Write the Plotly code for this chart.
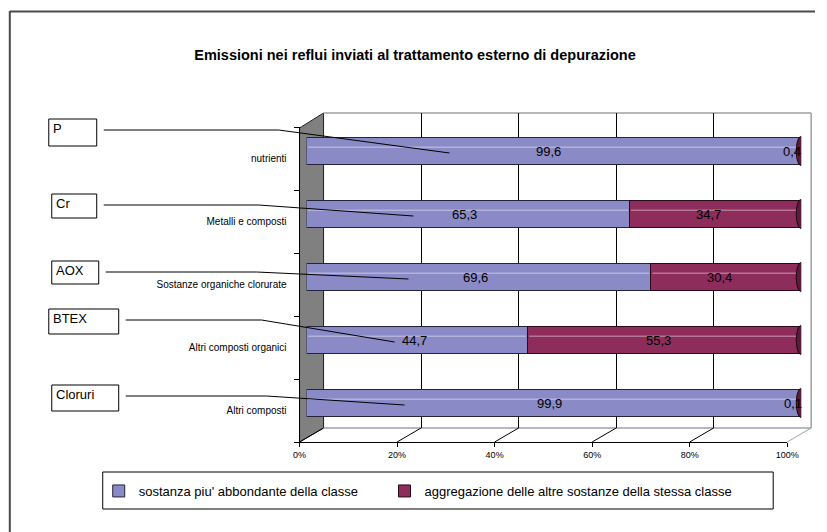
import plotly.graph_objects as go

# ---------------- data ----------------
categories = ["Altri composti", "Altri composti organici", "Sostanze organiche clorurate",
              "Metalli e composti", "nutrienti"]
main_share = [99.9, 44.7, 69.6, 65.3, 99.6]
other_share = [0.1, 55.3, 30.4, 34.7, 0.4]
substances = ["Cloruri", "BTEX", "AOX", "Cr", "P"]
series_names = ["sostanza piu' abbondante della classe",
                "aggregazione delle altre sostanze della stessa classe"]
pct_ticks = [0, 20, 40, 60, 80, 100]
pct_labels = ["0%", "20%", "40%", "60%", "80%", "100%"]
title_text = "Emissioni nei reflui inviati al trattamento esterno di depurazione"

# ---------------- layout helpers (target pixels -> paper) ----------------
W, H = 827, 532
SX, BX = 0.9778, 5.2          # horizontal correction observed in the rendered page
def px(x): return ((x - BX) / SX) / W
def py(y): return 1 - y / H

FONT = "Liberation Sans, Arial, sans-serif"
BLUE = "#8A8AC6"
MAROON = "#8E2D5C"
n = len(categories)
idx = list(range(n))

# geometry of the pseudo-3D box (target pixels)
FRONT_X0, FRONT_X1, FRONT_Y = 298, 786, 442
BACK_X0, BACK_X1, BACK_Y0, BACK_Y1 = 322, 810, 113, 428
FRONT_TOP = 127
BAR_X0, BAR_X1 = 305, 800
BAR_TOP, BAR_BOT = 119.5, 434.5

fig = go.Figure()

# empty helper traces so the wall / floor axes get drawn
fig.add_trace(go.Scatter(x=[None], y=[None], xaxis="x", yaxis="y", showlegend=False,
                         hoverinfo="skip"))
fig.add_trace(go.Scatter(x=[None], y=[None], xaxis="x2", yaxis="y2", showlegend=False,
                         hoverinfo="skip"))

fig.add_trace(go.Bar(
    y=idx, x=main_share, orientation="h", name=series_names[0], legend="legend",
    marker=dict(color=BLUE, line=dict(color="#23233c", width=1)),
    width=0.43, xaxis="x3", yaxis="y3", hoverinfo="x"))
fig.add_trace(go.Bar(
    y=idx, x=other_share, orientation="h", name=series_names[1], legend="legend2",
    marker=dict(color=MAROON, line=dict(color="#2a0a18", width=1)),
    width=0.43, xaxis="x3", yaxis="y3", hoverinfo="x"))

shapes = []
annotations = []

# outer chart frame (top and left edges visible)
shapes.append(dict(type="line", xref="paper", yref="paper", x0=px(8), x1=1,
                   y0=py(11.5), y1=py(11.5), line=dict(color="#4a4a4a", width=2)))
shapes.append(dict(type="line", xref="paper", yref="paper", x0=px(8), x1=px(8),
                   y0=py(11), y1=0, line=dict(color="#4a4a4a", width=2)))

# left (gray) wall
shapes.append(dict(type="path", xref="paper", yref="paper", layer="below",
                   path=f"M{px(FRONT_X0)},{py(FRONT_TOP+1)} L{px(BACK_X0)},{py(BACK_Y0)} "
                        f"L{px(BACK_X0)},{py(BACK_Y1)} L{px(FRONT_X0)},{py(FRONT_Y)} Z",
                   fillcolor="#808080", line=dict(color="#202020", width=1)))
# back wall top / right edges, floor back edge
gray = "#a0a0a0"
shapes.append(dict(type="line", xref="paper", yref="paper", layer="below",
                   x0=px(BACK_X0), x1=px(BACK_X1), y0=py(BACK_Y0), y1=py(BACK_Y0),
                   line=dict(color=gray, width=1.5)))
shapes.append(dict(type="line", xref="paper", yref="paper", layer="below",
                   x0=px(BACK_X1), x1=px(BACK_X1), y0=py(BACK_Y0), y1=py(BACK_Y1),
                   line=dict(color=gray, width=1.5)))
shapes.append(dict(type="line", xref="paper", yref="paper", layer="below",
                   x0=px(BACK_X0), x1=px(BACK_X1), y0=py(BACK_Y1), y1=py(BACK_Y1),
                   line=dict(color=gray, width=1.5)))
# floor diagonals from front ticks to back gridlines
for t in pct_ticks:
    fx = FRONT_X0 + (FRONT_X1 - FRONT_X0) * t / 100
    bx = BACK_X0 + (BACK_X1 - BACK_X0) * t / 100
    shapes.append(dict(type="line", xref="paper", yref="paper", layer="below",
                       x0=px(fx), x1=px(bx), y0=py(FRONT_Y), y1=py(BACK_Y1),
                       line=dict(color=gray if t == 100 else "#000000", width=1)))

# bar highlights, end caps and value labels (from the data)
for i in idx:
    base = 0
    for v in (main_share[i], other_share[i]):
        shapes.append(dict(type="line", xref="x3", yref="y3", x0=base + 0.3, x1=base + v - 0.3,
                           y0=i + 0.06, y1=i + 0.06,
                           line=dict(color="rgba(255,255,255,0.35)", width=1.5)))
        base += v
    tot = main_share[i] + other_share[i]
    shapes.append(dict(type="circle", xref="x3", yref="y3", x0=tot - 1.0, x1=tot + 0.9,
                       y0=i - 0.23, y1=i + 0.23, fillcolor="#5a1c3a",
                       line=dict(color="#1c0810", width=1)))
    for base, v in ((0, main_share[i]), (main_share[i], other_share[i])):
        # labels sit on the front face of the 3D bars -> front axis (x2)
        annotations.append(dict(xref="x2", yref="y3", x=base + v / 2, y=i, xshift=6,
                                text=f"{v:.1f}".replace(".", ","), showarrow=False,
                                font=dict(family=FONT, size=13, color="#000")))

# callout boxes with leader lines
callouts = [  # box x0, y0, x1, y1, knee x, end pct along bar
    (50, 385, 117, 411, 265, 19.8),
    (47, 309, 117, 334, 260, 17.8),
    (50, 261, 97, 284, 255, 20.6),
    (50, 194, 95, 218, 257, 21.6),
    (47, 119, 95, 146, 277, 28.9),
]
row_h = (BAR_BOT - BAR_TOP) / n
for i, (bx0, by0, bx1, by1, kx, pend) in enumerate(callouts):
    shapes.append(dict(type="rect", xref="paper", yref="paper", x0=px(bx0), x1=px(bx1),
                       y0=py(by0), y1=py(by1), fillcolor="white",
                       line=dict(color="#000", width=1)))
    annotations.append(dict(xref="paper", yref="paper", x=px(bx0 + 2), y=py(by0),
                            xanchor="left", yanchor="top", text=substances[i], showarrow=False,
                            font=dict(family=FONT, size=13, color="#000")))
    ly = by0 + 11
    ex = BAR_X0 + (BAR_X1 - BAR_X0) * pend / 100
    ey = BAR_BOT - row_h * (i + 0.5) + 2
    shapes.append(dict(type="path", xref="paper", yref="paper", layer="above",
                       path=f"M{px(bx1 + 7)},{py(ly)} L{px(kx)},{py(ly)} L{px(ex)},{py(ey)}",
                       line=dict(color="#000", width=1)))

# legend frame
shapes.append(dict(type="rect", xref="paper", yref="paper", x0=px(101), x1=px(772),
                   y0=py(472), y1=py(509), line=dict(color="#000", width=1),
                   fillcolor="rgba(0,0,0,0)"))

leg_common = dict(orientation="h", xanchor="left", yanchor="top", bgcolor="rgba(0,0,0,0)",
                  borderwidth=0, font=dict(family=FONT, size=13, color="#000"))

fig.update_layout(
    width=W, height=H, autosize=False,
    margin=dict(l=0, r=0, t=0, b=0),
    paper_bgcolor="white", plot_bgcolor="rgba(0,0,0,0)",
    barmode="stack", bargap=0,
    title=dict(text=f"<b>{title_text}</b>", x=px(411), xanchor="center",
               y=py(55), yanchor="middle", font=dict(family=FONT, size=14.5, color="#000")),
    showlegend=True,
    legend=dict(x=px(97), y=py(476), **leg_common),
    legend2=dict(x=px(383), y=py(476), **leg_common),
    # back wall grid
    xaxis=dict(domain=[px(BACK_X0), px(BACK_X1)], range=[0, 100], anchor="y",
               tickmode="array", tickvals=[20, 40, 60, 80], showticklabels=False,
               ticks="", showgrid=True, gridcolor="#000", gridwidth=1, zeroline=False,
               showline=False, fixedrange=True),
    yaxis=dict(domain=[py(BACK_Y1), py(BACK_Y0)], range=[0, 1], anchor="x",
               showticklabels=False, ticks="", showgrid=False, zeroline=False,
               showline=False, fixedrange=True),
    # front axes (floor edge + left wall edge)
    xaxis2=dict(domain=[px(FRONT_X0), px(FRONT_X1)], range=[0, 100], anchor="y2",
                tickmode="array", tickvals=pct_ticks, ticktext=pct_labels,
                ticks="outside", ticklen=4, tickcolor="#000", showline=True,
                linecolor="#000", linewidth=1, showgrid=False, zeroline=False,
                tickfont=dict(family=FONT, size=9, color="#000"), fixedrange=True),
    yaxis2=dict(domain=[py(FRONT_Y), py(FRONT_TOP)], range=[-0.5, n - 0.5], anchor="x2",
                tickmode="array", tickvals=idx, ticktext=categories, ticks="",
                minor=dict(tickmode="array", tickvals=[k - 0.5 for k in range(n + 1)],
                           ticks="outside", ticklen=5, tickcolor="#000", showgrid=False),
                showline=True, linecolor="#000", linewidth=1, showgrid=False,
                zeroline=False, ticklabelstandoff=10,
                tickfont=dict(family=FONT, size=10, color="#000"), fixedrange=True),
    # bars
    xaxis3=dict(domain=[px(BAR_X0), px(BAR_X1)], range=[0, 100], anchor="y3",
                visible=False, fixedrange=True),
    yaxis3=dict(domain=[py(BAR_BOT), py(BAR_TOP)], range=[-0.5, n - 0.5], anchor="x3",
                visible=False, fixedrange=True),
    shapes=shapes,
    annotations=annotations,
)

fig.write_html(
    "out.html",
    config={"displayModeBar": False},
    post_script=("document.body.style.margin='0';"
                 "document.body.style.overflow='hidden';"
                 "document.documentElement.style.overflow='hidden';"),
)
